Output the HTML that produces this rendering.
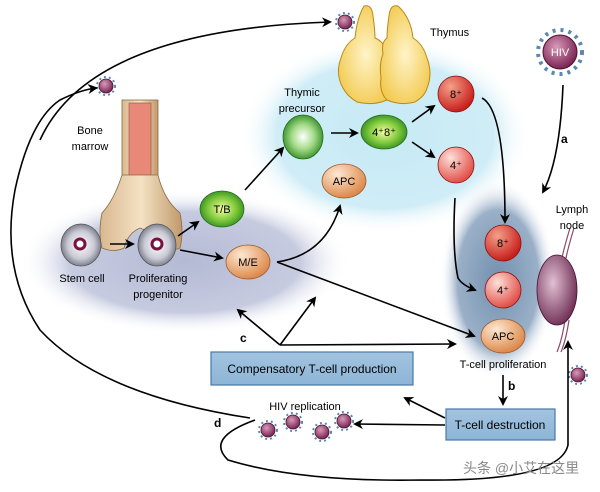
<!DOCTYPE html>
<html><head><meta charset="utf-8"><style>
body{margin:0;background:#fff;}
svg{display:block;font-family:"Liberation Sans",sans-serif;}
</style></head><body>
<svg width="600" height="492" viewBox="0 0 600 492" xmlns="http://www.w3.org/2000/svg">
<defs>
<radialGradient id="blob1" cx="50%" cy="50%" r="50%"><stop offset="0" stop-color="#b4bad4"/><stop offset="0.7" stop-color="#c6cbe0"/><stop offset="1" stop-color="#fff" stop-opacity="0"/></radialGradient>
<radialGradient id="blob2" cx="50%" cy="50%" r="50%"><stop offset="0" stop-color="#c6eaf5"/><stop offset="0.75" stop-color="#d0edf7"/><stop offset="1" stop-color="#fff" stop-opacity="0"/></radialGradient>
<radialGradient id="blob3" cx="50%" cy="50%" r="50%"><stop offset="0" stop-color="#7390ae"/><stop offset="0.7" stop-color="#9ab0c8"/><stop offset="1" stop-color="#fff" stop-opacity="0"/></radialGradient>
<radialGradient id="red" cx="35%" cy="30%" r="70%"><stop offset="0" stop-color="#f4a08a"/><stop offset="1" stop-color="#c8201c"/></radialGradient>
<radialGradient id="pink" cx="35%" cy="30%" r="70%"><stop offset="0" stop-color="#fde0d8"/><stop offset="1" stop-color="#e2504a"/></radialGradient>
<radialGradient id="green" cx="50%" cy="50%" r="55%"><stop offset="0" stop-color="#f4ffa0"/><stop offset="0.6" stop-color="#7cc63a"/><stop offset="1" stop-color="#2c8a22"/></radialGradient>
<radialGradient id="green2" cx="50%" cy="50%" r="55%"><stop offset="0" stop-color="#ffffff"/><stop offset="0.5" stop-color="#a6dc8a"/><stop offset="1" stop-color="#2c8a22"/></radialGradient>
<radialGradient id="orange" cx="35%" cy="30%" r="70%"><stop offset="0" stop-color="#fde8d2"/><stop offset="1" stop-color="#dd8a4c"/></radialGradient>
<radialGradient id="gray" cx="50%" cy="50%" r="55%"><stop offset="0" stop-color="#fff"/><stop offset="0.6" stop-color="#c9cad4"/><stop offset="1" stop-color="#6a6c7c"/></radialGradient>
<radialGradient id="vir" cx="40%" cy="35%" r="65%"><stop offset="0" stop-color="#d89ab8"/><stop offset="1" stop-color="#7a2452"/></radialGradient>
<radialGradient id="node" cx="40%" cy="40%" r="65%"><stop offset="0" stop-color="#e2c0d4"/><stop offset="1" stop-color="#6c2c52"/></radialGradient>
<radialGradient id="thy" cx="50%" cy="50%" r="60%"><stop offset="0" stop-color="#fff4c8"/><stop offset="1" stop-color="#f2c84a"/></radialGradient>
<linearGradient id="bone" x1="0" x2="1"><stop offset="0" stop-color="#d8b890"/><stop offset="0.5" stop-color="#f4e2c4"/><stop offset="1" stop-color="#c09a6c"/></linearGradient>
<linearGradient id="box" x1="0" y1="0" x2="0" y2="1"><stop offset="0" stop-color="#a3c4e0"/><stop offset="1" stop-color="#8db4d6"/></linearGradient>
<marker id="ah" markerWidth="10" markerHeight="10" refX="8" refY="5" orient="auto" markerUnits="userSpaceOnUse"><path d="M0,0 L10,5 L0,10 L3,5 z" fill="#000"/></marker>
<g id="v"><circle r="7" fill="url(#vir)" stroke="#4a1030" stroke-width="0.8"/><circle r="9" fill="none" stroke="#5a88b0" stroke-width="2" stroke-dasharray="2 3"/></g>
</defs>

<ellipse cx="185" cy="262" rx="165" ry="72" fill="url(#blob1)"/>
<ellipse cx="385" cy="135" rx="145" ry="98" fill="url(#blob2)"/>
<ellipse cx="498" cy="280" rx="58" ry="100" fill="url(#blob3)"/>

<!-- thymus -->
<path d="M364,6 q8,-2 9,10 q2,14 2,22 q10,4 12,16 q8,10 6,24 q2,14 -6,22 q-14,6 -30,2 q-10,-6 -14,-14 q-8,-14 -2,-30 q4,-14 14,-20 q2,-20 9,-32 z" fill="url(#thy)" stroke="#b88a18" stroke-width="1"/>
<path d="M398,6 q-8,-2 -9,10 q-2,14 -2,22 q-6,4 -4,16 q-4,10 -2,24 q-2,14 6,22 q14,6 28,2 q10,-6 12,-14 q6,-14 0,-30 q-4,-14 -14,-20 q-2,-20 -15,-32 z" fill="url(#thy)" stroke="#b88a18" stroke-width="1"/>
<text x="430" y="36" font-size="11">Thymus</text>

<!-- bone -->
<rect x="122" y="100" width="36" height="80" fill="url(#bone)" stroke="#8a6a40" stroke-width="0.8"/>
<rect x="129" y="103" width="22" height="75" fill="#e88878" stroke="#9a4a40" stroke-width="0.6"/>
<path d="M122,175 q-8,25 -20,38 q-4,20 0,35 q12,5 22,0 q4,-15 16,-20 q14,5 18,20 q10,5 22,0 q4,-15 0,-35 q-16,-13 -22,-38 z" fill="url(#bone)" stroke="#8a6a40" stroke-width="0.8"/>
<text x="90" y="134" font-size="11" text-anchor="middle">Bone</text>
<text x="90" y="150" font-size="11" text-anchor="middle">marrow</text>

<!-- HIV -->
<circle cx="560" cy="52" r="22" fill="none" stroke="#5a88b0" stroke-width="4" stroke-dasharray="3 5"/>
<circle cx="560" cy="52" r="17" fill="url(#vir)" stroke="#4a1030"/>
<text x="560" y="56" font-size="11" text-anchor="middle" fill="#fff">HIV</text>

<!-- viruses -->
<use href="#v" x="345" y="22"/><use href="#v" x="106" y="86"/><use href="#v" x="578" y="375"/>
<use href="#v" x="268" y="430"/><use href="#v" x="293" y="422"/><use href="#v" x="322" y="432"/><use href="#v" x="344" y="421"/>

<!-- cells -->
<ellipse cx="81" cy="245" rx="20" ry="21" fill="url(#gray)" stroke="#555" stroke-width="0.8"/><circle cx="80" cy="244" r="5" fill="#fff" stroke="#7a1040" stroke-width="3"/>
<ellipse cx="157" cy="245" rx="19" ry="21" fill="url(#gray)" stroke="#555" stroke-width="0.8"/><circle cx="157" cy="244" r="5" fill="#fff" stroke="#7a1040" stroke-width="3"/>
<text x="82" y="282" font-size="11" text-anchor="middle">Stem cell</text>
<text x="158" y="282" font-size="11" text-anchor="middle">Proliferating</text>
<text x="158" y="298" font-size="11" text-anchor="middle">progenitor</text>
<ellipse cx="222" cy="209" rx="22" ry="18" fill="url(#green)" stroke="#2a6a20" stroke-width="0.8"/><text x="222" y="213" font-size="11" text-anchor="middle">T/B</text>
<ellipse cx="248" cy="262" rx="22" ry="17" fill="url(#orange)" stroke="#9a5a30" stroke-width="0.8"/><text x="248" y="266" font-size="11" text-anchor="middle">M/E</text>
<ellipse cx="303" cy="137" rx="20" ry="22" fill="url(#green2)" stroke="#2a6a20" stroke-width="0.8"/>
<text x="302" y="96" font-size="11" text-anchor="middle">Thymic</text>
<text x="302" y="112" font-size="11" text-anchor="middle">precursor</text>
<ellipse cx="384" cy="132" rx="23" ry="17" fill="url(#green)" stroke="#2a6a20" stroke-width="0.8"/><text x="384" y="136" font-size="11" text-anchor="middle">4⁺8⁺</text>
<circle cx="456" cy="94" r="18" fill="url(#red)" stroke="#8a1010" stroke-width="0.8"/><text x="456" y="98" font-size="11" text-anchor="middle">8⁺</text>
<circle cx="456" cy="165" r="18" fill="url(#pink)" stroke="#8a1010" stroke-width="0.8"/><text x="456" y="169" font-size="11" text-anchor="middle">4⁺</text>
<ellipse cx="344" cy="181" rx="22" ry="17" fill="url(#orange)" stroke="#9a5a30" stroke-width="0.8"/><text x="344" y="185" font-size="11" text-anchor="middle">APC</text>
<circle cx="503" cy="243" r="18" fill="url(#red)" stroke="#8a1010" stroke-width="0.8"/><text x="503" y="247" font-size="11" text-anchor="middle">8⁺</text>
<circle cx="503" cy="290" r="18" fill="url(#pink)" stroke="#8a1010" stroke-width="0.8"/><text x="503" y="294" font-size="11" text-anchor="middle">4⁺</text>
<ellipse cx="503" cy="336" rx="22" ry="17" fill="url(#orange)" stroke="#9a5a30" stroke-width="0.8"/><text x="503" y="340" font-size="11" text-anchor="middle">APC</text>
<text x="503" y="368" font-size="11" text-anchor="middle">T-cell proliferation</text>
<path d="M574,228 q-6,20 -8,30 M570,228 q-6,20 -8,30 M565,320 q-3,20 -8,32 M569,320 q-3,20 -8,32" stroke="#8a4a6a" stroke-width="1.2" fill="none"/>
<ellipse cx="557" cy="290" rx="20" ry="35" fill="url(#node)" stroke="#4a1030" stroke-width="0.8"/>
<text x="572" y="213" font-size="11" text-anchor="middle">Lymph</text>
<text x="572" y="229" font-size="11" text-anchor="middle">node</text>

<!-- boxes -->
<rect x="211" y="352" width="202" height="33" fill="url(#box)" stroke="#4a78a8" stroke-width="1.2"/>
<text x="312" y="373" font-size="12" text-anchor="middle">Compensatory T-cell production</text>
<rect x="446" y="409" width="109" height="31" fill="url(#box)" stroke="#4a78a8" stroke-width="1.2"/>
<text x="500" y="429" font-size="12" text-anchor="middle">T-cell destruction</text>
<text x="305" y="410" font-size="11" text-anchor="middle">HIV replication</text>
<g font-size="12" font-weight="bold"><text x="561" y="143">a</text><text x="508" y="390">b</text><text x="240" y="342">c</text><text x="214" y="427">d</text></g>

<!-- arrows -->
<g stroke="#000" stroke-width="1.6" fill="none" marker-end="url(#ah)">
<path d="M110,244 L133,244"/>
<path d="M178,236 L198,222"/>
<path d="M180,250 L222,258"/>
<path d="M245,190 L283,148"/>
<path d="M331,133 L357,133"/>
<path d="M412,122 L434,106"/>
<path d="M412,142 L434,157"/>
<path d="M277,262 Q325,255 340,206"/>
<path d="M277,262 L474,336"/>
<path d="M482,98 Q505,110 505,222"/>
<path d="M455,198 Q452,250 458,278 Q462,285 475,290"/>
<path d="M563,85 Q560,160 543,192"/>
<path d="M280,345 L238,310"/>
<path d="M280,345 L315,298"/>
<path d="M280,345 L455,344"/>
<path d="M503,375 L503,404"/>
<path d="M445,418 L405,398"/>
<path d="M445,425 L355,424"/>
<path d="M250,418 Q100,395 40,330 Q0,270 15,190 Q30,120 60,100 Q80,90 96,88"/>
<path d="M40,140 Q90,30 330,22"/>
<path d="M255,420 Q205,438 228,460 Q300,482 420,480 Q560,482 568,445 L568,342"/>
</g>

<text x="463" y="473" font-size="14" fill="#888" font-family="'Liberation Sans','Noto Sans CJK SC',sans-serif">头条 @小艾在这里</text>
</svg>
</body></html>
